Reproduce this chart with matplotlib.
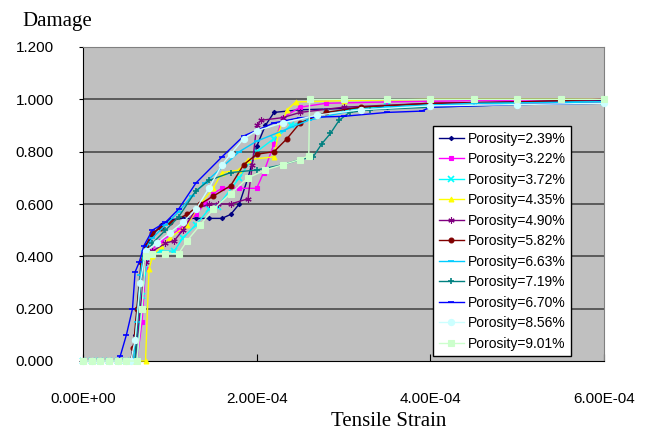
import matplotlib
matplotlib.use("Agg")
import matplotlib.pyplot as plt
from matplotlib.ticker import FixedLocator

# strain values are given in units of 1e-4
zero_x = [0.0, 0.1, 0.2, 0.3, 0.4, 0.5]
zero_y = [0.0, 0.0, 0.0, 0.0, 0.0, 0.0]

x_239 = zero_x + [0.55, 0.6, 0.65, 0.7, 0.8, 0.9, 1.0, 1.15, 1.3, 1.45, 1.6, 1.7, 1.8, 1.9, 2.0, 2.1, 2.2, 2.5, 3.0, 3.5, 4.0, 4.5, 5.0, 5.5, 6.0]
y_239 = zero_y + [0.0, 0.1, 0.3, 0.42, 0.48, 0.52, 0.54, 0.545, 0.545, 0.545, 0.545, 0.56, 0.6, 0.7, 0.82, 0.9, 0.95, 0.96, 0.965, 0.97, 0.98, 0.985, 0.99, 0.993, 0.995]

x_322 = zero_x + [0.62, 0.68, 0.72, 0.78, 0.9, 1.1, 1.3, 1.4, 1.5, 1.6, 1.8, 2.0, 2.08, 2.2, 2.3, 2.5, 2.8, 3.5, 4.5, 6.0]
y_322 = zero_y + [0.0, 0.15, 0.35, 0.42, 0.46, 0.5, 0.56, 0.6, 0.64, 0.66, 0.66, 0.66, 0.72, 0.83, 0.93, 0.97, 0.985, 0.99, 0.995, 1.0]

x_372 = zero_x + [0.62, 0.68, 0.75, 0.9, 1.05, 1.15, 1.3, 1.45, 1.55, 1.8, 2.0, 2.2, 2.4, 2.8, 3.5, 4.5, 6.0]
y_372 = zero_y + [0.0, 0.25, 0.4, 0.42, 0.42, 0.47, 0.52, 0.58, 0.59, 0.7, 0.8, 0.85, 0.9, 0.95, 0.975, 0.985, 0.99]

x_435 = zero_x + [0.6, 0.72, 0.76, 0.8, 0.9, 1.0, 1.2, 1.35, 1.5, 1.6, 1.8, 1.9, 2.2, 2.25, 2.35, 2.45, 3.0, 4.0, 5.0, 6.0]
y_435 = zero_y + [0.0, 0.0, 0.35, 0.4, 0.44, 0.47, 0.52, 0.6, 0.66, 0.72, 0.73, 0.77, 0.78, 0.87, 0.96, 0.99, 0.995, 1.0, 1.0, 1.0]

x_490 = zero_x + [0.6, 0.66, 0.72, 0.8, 0.95, 1.05, 1.15, 1.3, 1.45, 1.55, 1.7, 1.9, 1.95, 2.0, 2.05, 2.3, 2.5, 3.0, 4.0, 5.0, 6.0]
y_490 = zero_y + [0.0, 0.2, 0.38, 0.42, 0.45, 0.46, 0.5, 0.58, 0.6, 0.6, 0.6, 0.62, 0.75, 0.9, 0.92, 0.93, 0.95, 0.97, 0.985, 0.99, 1.0]

x_582 = zero_x + [0.55, 0.58, 0.62, 0.67, 0.72, 0.8, 0.9, 1.0, 1.2, 1.35, 1.5, 1.7, 1.85, 2.0, 2.2, 2.35, 2.5, 2.8, 3.2, 4.0, 5.0, 6.0]
y_582 = zero_y + [0.0, 0.05, 0.2, 0.38, 0.44, 0.49, 0.51, 0.53, 0.56, 0.6, 0.63, 0.67, 0.75, 0.79, 0.8, 0.85, 0.91, 0.95, 0.97, 0.985, 0.99, 1.0]

x_663 = zero_x + [0.58, 0.62, 0.66, 0.7, 0.8, 0.95, 1.1, 1.25, 1.4, 1.6, 1.8, 2.0, 2.3, 2.6, 3.0, 3.5, 4.5, 6.0]
y_663 = zero_y + [0.0, 0.15, 0.33, 0.42, 0.47, 0.52, 0.57, 0.63, 0.68, 0.74, 0.8, 0.84, 0.88, 0.92, 0.95, 0.97, 0.985, 0.99]

x_719 = zero_x + [0.6, 0.64, 0.7, 0.8, 0.95, 1.1, 1.3, 1.45, 1.7, 2.0, 2.3, 2.5, 2.65, 2.75, 2.85, 2.95, 3.07, 3.3, 4.0, 5.0, 6.0]
y_719 = zero_y + [0.0, 0.2, 0.4, 0.45, 0.5, 0.55, 0.65, 0.69, 0.72, 0.73, 0.75, 0.77, 0.78, 0.83, 0.87, 0.92, 0.95, 0.96, 0.97, 0.98, 0.985]

x_670 = [0.0, 0.1, 0.2, 0.3, 0.4, 0.43, 0.5, 0.57, 0.6, 0.65, 0.7, 0.8, 0.95, 1.1, 1.3, 1.6, 1.85, 2.2, 2.5, 3.0, 3.5, 3.9, 4.0, 5.0, 6.0]
y_670 = [0.0, 0.0, 0.0, 0.0, 0.0, 0.02, 0.1, 0.2, 0.34, 0.38, 0.44, 0.5, 0.53, 0.58, 0.68, 0.78, 0.86, 0.91, 0.93, 0.935, 0.95, 0.955, 0.97, 0.98, 0.985]

x_856 = zero_x + [0.55, 0.6, 0.66, 0.72, 0.85, 1.0, 1.15, 1.3, 1.45, 1.6, 1.7, 1.85, 2.0, 2.3, 2.7, 3.2, 4.0, 5.0, 6.0]
y_856 = zero_y + [0.0, 0.08, 0.3, 0.42, 0.45, 0.49, 0.53, 0.58, 0.66, 0.75, 0.79, 0.85, 0.88, 0.91, 0.94, 0.96, 0.975, 0.98, 0.985]

x_901 = zero_x + [0.62, 0.68, 0.72, 0.8, 0.95, 1.1, 1.2, 1.35, 1.5, 1.7, 1.9, 2.1, 2.3, 2.5, 2.6, 2.61, 3.0, 3.5, 4.0, 4.5, 5.0, 5.5, 6.0]
y_901 = zero_y + [0.0, 0.2, 0.4, 0.41, 0.41, 0.41, 0.46, 0.52, 0.58, 0.64, 0.7, 0.73, 0.75, 0.77, 0.785, 1.0, 1.0, 1.0, 1.0, 1.0, 1.0, 1.0, 1.0]

labels = ["Porosity=2.39%", "Porosity=3.22%", "Porosity=3.72%", "Porosity=4.35%",
          "Porosity=4.90%", "Porosity=5.82%", "Porosity=6.63%", "Porosity=7.19%",
          "Porosity=6.70%", "Porosity=8.56%", "Porosity=9.01%"]
xs = [x_239, x_322, x_372, x_435, x_490, x_582, x_663, x_719, x_670, x_856, x_901]
ys = [y_239, y_322, y_372, y_435, y_490, y_582, y_663, y_719, y_670, y_856, y_901]

colors = ["#000080", "#FF00FF", "#00FFFF", "#FFFF00", "#800080", "#800000",
          "#00CCFF", "#008080", "#0000FF", "#CCFFFF", "#CCFFCC"]
markers = ["D", "s", "x", "^", (6, 2, 0), "o", "_", "+", "_", "o", "s"]
msizes = [2.2, 3.5, 4, 3.5, 4.5, 3.5, 5, 4.5, 5, 4.5, 4.5]

xticks = [0, 2e-4, 4e-4, 6e-4]
xtick_labels = ["0.00E+00", "2.00E-04", "4.00E-04", "6.00E-04"]
yticks = [0.0, 0.2, 0.4, 0.6, 0.8, 1.0, 1.2]
ytick_labels = ["0.000", "0.200", "0.400", "0.600", "0.800", "1.000", "1.200"]

plt.rcParams['font.family'] = ['Liberation Sans', 'DejaVu Sans']

fig = plt.figure(figsize=(6.48, 4.33), dpi=100)
ax = fig.add_axes([83/648, 72/433, 521/648, 314/433])
ax.set_facecolor("#c0c0c0")

for y in yticks[1:-1]:
    ax.axhline(y, color="#404040", lw=1.1, zorder=1)

for i in range(len(labels)):
    xv = [v * 1e-4 for v in xs[i]]
    ax.plot(xv, ys[i], color=colors[i], marker=markers[i], ms=msizes[i],
            mew=1.2 if markers[i] in ("x", "+", "_") else 0.8,
            lw=1, label=labels[i], zorder=2 + i, clip_on=False)

ax.set_xlim(0, 6e-4)
ax.set_ylim(0, 1.2)
ax.xaxis.set_major_locator(FixedLocator(xticks))
ax.set_xticklabels(xtick_labels)
ax.yaxis.set_major_locator(FixedLocator(yticks))
ax.set_yticklabels(ytick_labels)
ax.tick_params(axis="x", direction="in", length=5, pad=22, labelsize=11)
ax.tick_params(axis="y", direction="out", length=3, pad=18, labelsize=11)

ax.spines["left"].set_color("black")
ax.spines["bottom"].set_color("black")
ax.spines["top"].set_color("#808080")
ax.spines["right"].set_color("#808080")

leg = ax.legend(loc="upper left", bbox_to_anchor=(433/648, 1 - 126/433),
                bbox_transform=fig.transFigure, borderaxespad=0,
                fontsize=10, labelspacing=0.47, handlelength=1.8,
                handletextpad=0.3, borderpad=0.4, numpoints=1,
                fancybox=False, framealpha=1, edgecolor="black")
leg.get_frame().set_linewidth(1)
leg.set_zorder(20)

fig.text(22/648, 1 - 26/433, "Damage", family="Liberation Serif", fontsize=15, va="baseline")
fig.text(389/648, 1 - 426/433, "Tensile Strain", family="Liberation Serif", fontsize=15,
         ha="center", va="baseline")

fig.savefig("out.png", dpi=100)
